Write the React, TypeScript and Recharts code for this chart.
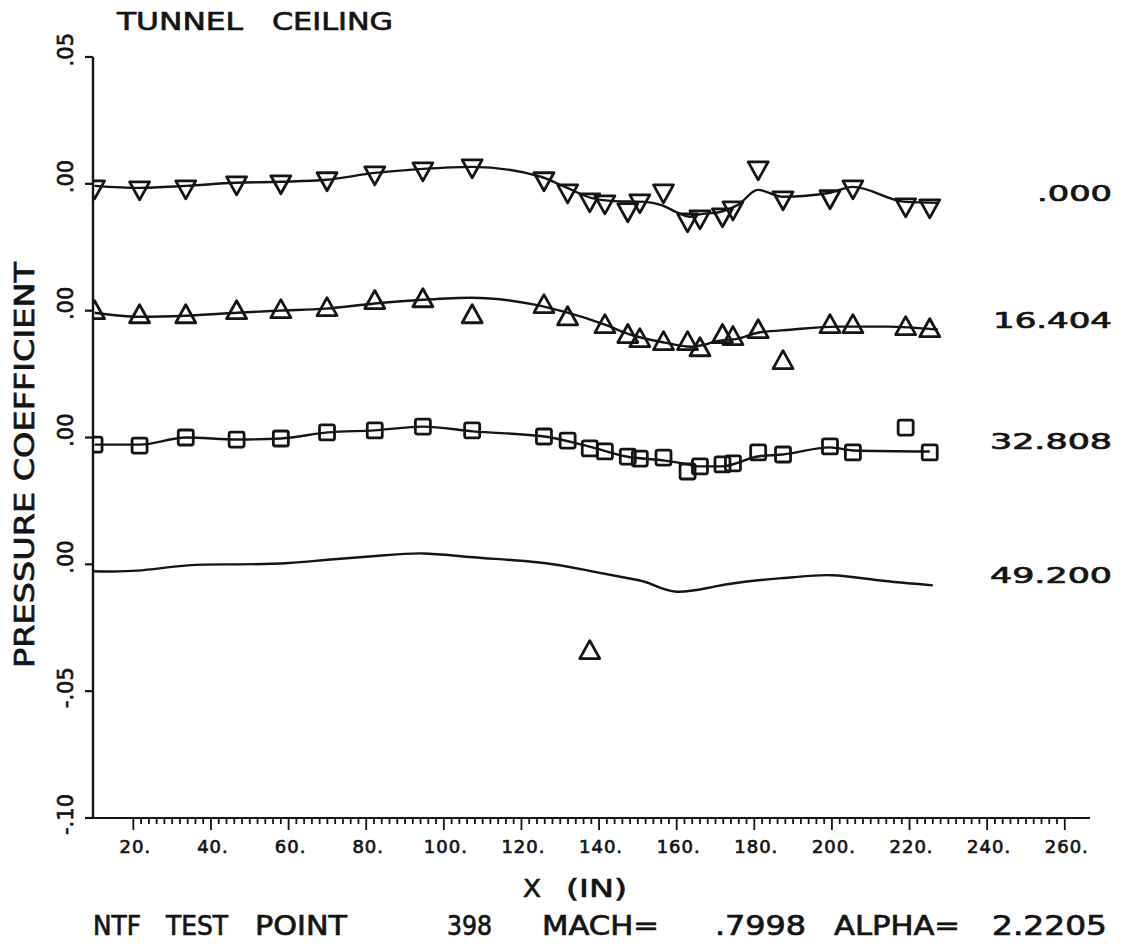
import React from 'react';
import { ComposedChart, Line, Scatter, XAxis, YAxis } from 'recharts';

// Probe stations along the ceiling row (inches)
const stations = [10, 21.6, 33.5, 46.6, 58, 69.9, 82.2, 94.6, 107.3, 125.8, 131.9, 137.6, 141.5, 147.4, 150.5, 156.6, 162.8, 166, 171.8, 174.5, 181, 187.4, 199.5, 205.4, 219, 225.2];

// Measured Cp at each station, one list per spanwise row
const cpRow000 = [-0.0012, -0.0016, -0.0012, 0.0004, 0.0008, 0.002, 0.0043, 0.0059, 0.0071, 0.002, -0.0028, -0.0063, -0.0071, -0.0102, -0.0067, -0.0028, -0.0142, -0.013, -0.0122, -0.0095, 0.0063, -0.0055, -0.0051, -0.0012, -0.0083, -0.0087];
const cpRow16404 = [-0.0008, -0.0024, -0.0024, -0.0008, -0.0004, 0.0004, 0.0032, 0.0039, -0.0024, 0.0016, -0.0032, -0.1348, -0.0063, -0.0102, -0.0118, -0.013, -0.013, -0.0154, -0.0102, -0.011, -0.0083, -0.0205, -0.0063, -0.0063, -0.0071, -0.0079];
const cpRow32808 = [-0.0028, -0.0032, 0, -0.0008, -0.0004, 0.002, 0.0028, 0.0043, 0.0028, 0.0004, -0.0012, -0.0043, -0.0055, -0.0075, -0.0083, -0.0079, -0.0134, -0.0114, -0.0106, -0.0102, -0.0059, -0.0067, -0.0035, -0.0059, 0.0039, -0.0059];

// Faired curves through each row
const fairX000 = [10, 21.6, 33.5, 46.4, 58, 69.8, 82.2, 94.6, 107.2, 125, 131.2, 137.9, 143, 151.8, 155.9, 160.3, 163.4, 165.4, 171.4, 175.8, 180.9, 187.4, 199.5, 205.4, 218.8, 227.3];
const fairCp000 = [-0.0008, -0.0016, -0.0008, 0.0004, 0.0008, 0.0016, 0.0043, 0.0059, 0.0067, 0.0028, -0.0012, -0.0055, -0.0067, -0.0071, -0.0083, -0.0114, -0.013, -0.0122, -0.011, -0.0083, -0.0024, -0.0051, -0.0035, -0.0012, -0.0071, -0.0075];
const fairX16404 = [10, 21.6, 33.5, 46.9, 57.7, 69.6, 82.2, 94.6, 107, 123.4, 131.9, 141.5, 148.2, 156.9, 163.6, 167.2, 169.8, 175.8, 180.9, 189.4, 201.5, 214.4, 227.3];
const fairCp16404 = [-0.0008, -0.0024, -0.002, -0.0008, 0, 0.0008, 0.0028, 0.0043, 0.0051, 0.0024, -0.0008, -0.0055, -0.0095, -0.0126, -0.0142, -0.0134, -0.0122, -0.011, -0.0087, -0.0075, -0.0063, -0.0063, -0.0075];
const fairX32808 = [10, 21.6, 33.5, 46.9, 58, 70.1, 82.2, 94.6, 107.5, 126, 137.3, 147, 157, 162.9, 165.5, 171.4, 180.9, 187.4, 199.5, 205.4, 225.2];
const fairCp32808 = [-0.0028, -0.0028, 0, -0.0008, -0.0004, 0.002, 0.0028, 0.0043, 0.0024, 0.0004, -0.0035, -0.0075, -0.0091, -0.0106, -0.0114, -0.0114, -0.0075, -0.0067, -0.0039, -0.0051, -0.0055];
const fairX49200 = [9.6, 21, 34, 47, 60, 70, 82.5, 94.6, 107.5, 124, 137, 147.5, 153, 160, 170, 181, 190, 200, 212, 226];
const fairCp49200 = [-0.0027, -0.0025, -0.0004, 0, 0.0005, 0.0018, 0.0033, 0.0043, 0.0028, 0.0008, -0.0024, -0.0055, -0.0075, -0.0108, -0.0087, -0.0063, -0.0051, -0.0043, -0.0063, -0.0083];

const rowNames = ['.000', '16.404', '32.808', '49.200'];
const rowShift = [0.15, 0.1, 0.05, 0];

const xMajorTicks = [20, 40, 60, 80, 100, 120, 140, 160, 180, 200, 220, 240, 260];
const xTickText = ['20.', '40.', '60.', '80.', '100.', '120.', '140.', '160.', '180.', '200.', '220.', '240.', '260.'];
const yTickValues = [-0.1, -0.05, 0, 0.05, 0.1, 0.15, 0.2];
const yTickText = ['-.10', '-.05', '.00', '.00', '.00', '.00', '.05'];

const INK = '#141414';
const FONT = '"DejaVu Sans", Verdana, sans-serif';
// pen-plotter lettering is a touch heavier than the plain face
const PEN = { fill: INK, stroke: INK, strokeWidth: 0.7, fontFamily: FONT };

// minor ticks every 2 in between the labelled ones
const xAllTicks: number[] = [];
xMajorTicks.forEach((t, i) => {
    xAllTicks.push(t);
    if (i < xMajorTicks.length - 1) {
        for (let k = 2; k < 20; k += 2) xAllTicks.push(t + k);
    }
});

const toPoints = (xs: number[], cps: number[], shift: number) =>
    xs.map((x, i) => ({ x, y: cps[i] + shift }));

const DownTriangle = (p: any) => (
    <polygon
        points={`${p.cx - 10},${p.cy - 6} ${p.cx + 10},${p.cy - 6} ${p.cx},${p.cy + 12}`}
        fill="none" stroke={INK} strokeWidth={2.8} strokeLinejoin="round"
    />
);

const UpTriangle = (p: any) => (
    <polygon
        points={`${p.cx - 10},${p.cy + 6} ${p.cx + 10},${p.cy + 6} ${p.cx},${p.cy - 12}`}
        fill="none" stroke={INK} strokeWidth={2.8} strokeLinejoin="round"
    />
);

const Square = (p: any) => (
    <rect x={p.cx - 7.5} y={p.cy - 7.5} width={15} height={15} rx={2}
        fill="none" stroke={INK} strokeWidth={2.8} />
);

const XTick = (props: any) => {
    const { x, y, payload } = props;
    const k = xMajorTicks.indexOf(payload.value);
    const major = k >= 0;
    return (
        <g>
            <line x1={x} y1={y} x2={x} y2={y + (major ? 12 : 6)} stroke={INK} strokeWidth={1.8} />
            {major && (
                <text x={x + 2} y={y + 35} textAnchor="middle" fontSize={18} letterSpacing={1} {...PEN}>
                    {xTickText[k]}
                </text>
            )}
        </g>
    );
};

const YTick = (props: any) => {
    const { x, y, index } = props;
    const bx = x - 20;
    const by = y - 24;
    return (
        <g>
            <line x1={x - 8} y1={y} x2={x} y2={y} stroke={INK} strokeWidth={2.2} />
            <text x={bx} y={by} transform={`rotate(-90 ${bx} ${by})`} textAnchor="end"
                fontSize={21} {...PEN}>
                {yTickText[index]}
            </text>
        </g>
    );
};

const rowLabelWidth = [75, 119, 122, 122];

const endLabel = (row: number, lastIndex: number) => (p: any) => {
    if (p.index !== lastIndex) return <g />;
    return (
        <text x={1112} y={p.y - 2} textAnchor="end" fontSize={21} {...PEN}
            textLength={rowLabelWidth[row]} lengthAdjust="spacingAndGlyphs">
            {rowNames[row]}
        </text>
    );
};

const Word = ({ x, y, w, size, children }: any) => (
    <text x={x} y={y} fontSize={size} {...PEN} textLength={w} lengthAdjust="spacingAndGlyphs">
        {children}
    </text>
);

const footer: [string, number, number][] = [
    ['NTF', 93, 48], ['TEST', 166, 62], ['POINT', 255, 92], ['398', 447, 45],
    ['MACH=', 542, 117], ['.7998', 715, 91], ['ALPHA=', 834, 126], ['2.2205', 992, 115],
];

const App: React.FC = () => {
    const fairs = [
        toPoints(fairX000, fairCp000, rowShift[0]),
        toPoints(fairX16404, fairCp16404, rowShift[1]),
        toPoints(fairX32808, fairCp32808, rowShift[2]),
        toPoints(fairX49200, fairCp49200, rowShift[3]),
    ];
    const measured = [
        toPoints(stations, cpRow000, rowShift[0]),
        toPoints(stations, cpRow16404, rowShift[1]),
        toPoints(stations, cpRow32808, rowShift[2]),
    ];
    const shapes = [DownTriangle, UpTriangle, Square];

    return (
        <div style={{ position: 'absolute', left: 0, top: 0, width: 1123, height: 950, background: '#fff' }}>
            <ComposedChart width={1123} height={950} margin={{ top: 57, right: 33, bottom: 92, left: 33 }}>
                <XAxis type="number" dataKey="x" domain={[9.6, 266.5]} allowDataOverflow
                    ticks={xAllTicks} interval={0} tick={<XTick />} tickLine={false}
                    tickSize={0} tickMargin={0} height={40}
                    axisLine={{ stroke: INK, strokeWidth: 2.2 }} />
                <YAxis type="number" dataKey="y" domain={[-0.1, 0.2]} allowDataOverflow
                    ticks={yTickValues} interval={0} tick={<YTick />} tickLine={false}
                    tickSize={0} tickMargin={0} width={60}
                    axisLine={{ stroke: INK, strokeWidth: 2.4 }} />
                {fairs.map((pts, i) => (
                    <Line key={`fair-${i}`} data={pts} dataKey="y" type={i === 3 ? 'natural' : 'monotone'}
                        stroke={INK} strokeWidth={2.4} dot={false} activeDot={false} isAnimationActive={false}
                        label={endLabel(i, pts.length - 1)} />
                ))}
                {measured.map((pts, i) => (
                    <Scatter key={`meas-${i}`} data={pts} dataKey="y" shape={shapes[i]}
                        isAnimationActive={false} />
                ))}
            </ComposedChart>
            <svg width={1123} height={950} style={{ position: 'absolute', left: 0, top: 0, pointerEvents: 'none' }}>
                <Word x={117} y={30} w={126} size={25}>TUNNEL</Word>
                <Word x={272} y={30} w={121} size={25}>CEILING</Word>
                <text x={34} y={465} transform="rotate(-90 34 465)" textAnchor="middle" fontSize={26}
                    {...PEN} textLength={406} lengthAdjust="spacingAndGlyphs">
                    PRESSURE COEFFICIENT
                </text>
                <Word x={523} y={897} w={18} size={25}>X</Word>
                <Word x={566} y={897} w={61} size={25}>(IN)</Word>
                {footer.map(([t, x, w]) => (
                    <Word key={t} x={x} y={935} w={w} size={26}>{t}</Word>
                ))}
            </svg>
        </div>
    );
};

export default App;
